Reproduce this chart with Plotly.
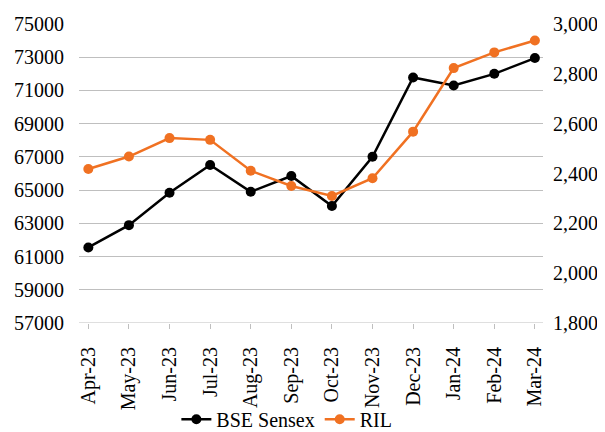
import plotly.graph_objects as go

months = ["Apr-23", "May-23", "Jun-23", "Jul-23", "Aug-23", "Sep-23", "Oct-23",
          "Nov-23", "Dec-23", "Jan-24", "Feb-24", "Mar-24"]
sensex = [61550, 62890, 64840, 66510, 64900, 65850, 64040, 67010, 71780, 71300, 72000, 72950]
ril = [2418, 2468, 2542, 2535, 2411, 2350, 2310, 2381, 2568, 2823, 2886, 2934]

left_ticks = list(range(57000, 75001, 2000))
right_ticks = list(range(1800, 3001, 200))

FONT = "Liberation Serif"
FS = 20

fig = go.Figure()
fig.add_trace(go.Scatter(x=months, y=sensex, name="BSE Sensex", mode="lines+markers",
                         line=dict(color="#000000", width=2.5),
                         marker=dict(color="#000000", size=10)))
fig.add_trace(go.Scatter(x=months, y=ril, name="RIL", mode="lines+markers", yaxis="y2",
                         line=dict(color="#F07122", width=2.5),
                         marker=dict(color="#F07122", size=10)))

# page body has an 8px default margin, so the figure is 8px smaller each way
fig.update_layout(
    width=597, height=424,
    margin=dict(l=71, r=62, t=16, b=109, autoexpand=False),
    paper_bgcolor="white", plot_bgcolor="white",
    font=dict(family=FONT, size=FS, color="#000000"),
    showlegend=True,
    legend=dict(orientation="h", x=0.448, xanchor="center", y=-0.322, yanchor="middle",
                font=dict(size=FS), itemwidth=30, bgcolor="rgba(0,0,0,0)"),
    xaxis=dict(type="category", range=[-0.23, 11.2], tickangle=-90, automargin=False,
               showgrid=False, showline=False, zeroline=False,
               ticks="outside", ticklen=5, tickcolor="#BFBFBF", tickwidth=1,
               tickfont=dict(size=FS), ticklabelstandoff=10),
    yaxis=dict(range=[57000, 75000], tickvals=left_ticks, ticktext=[str(v) for v in left_ticks],
               showgrid=True, gridcolor="#BFBFBF", gridwidth=1, zeroline=False, automargin=False,
               showline=False, tickfont=dict(size=FS), ticks="", ticklabelstandoff=14),
    yaxis2=dict(range=[1800, 3000], tickvals=right_ticks, ticktext=[f"{v:,}" for v in right_ticks],
                overlaying="y", side="right", showgrid=False, zeroline=False, automargin=False,
                showline=False, tickfont=dict(size=FS), ticklabelstandoff=9),
)
fig.add_shape(type="line", xref="paper", yref="y", x0=0, x1=1, y0=57000, y1=57000,
              line=dict(color="#BFBFBF", width=1))

fig.write_html("out.html")
